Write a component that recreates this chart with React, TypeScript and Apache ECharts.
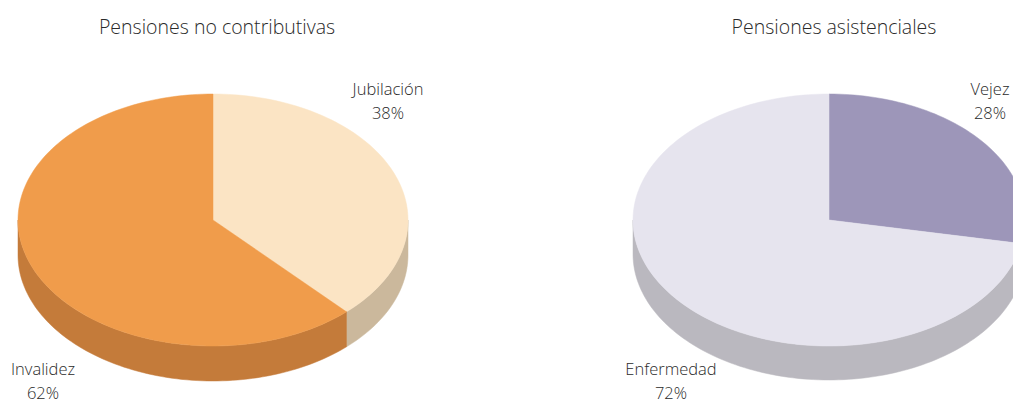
import React, { useEffect, useRef } from "react";
import * as echarts from "echarts";

const leftTitle = "Pensiones no contributivas";
const leftCategories = ["Jubilación", "Invalidez"];
const leftValues = [38, 62];

const rightTitle = "Pensiones asistenciales";
const rightCategories = ["Vejez", "Enfermedad"];
const rightValues = [28, 72];

const leftTopColors = ["#FBE4C4", "#F09C4B"];
const leftSideColors = ["#CBB89C", "#C47B3A"];
const rightTopColors = ["#9D96B9", "#E6E4EE"];
const rightSideColors = ["#8A84A0", "#BAB8BF"];

const FONT = "'Open Sans', 'Noto Sans', sans-serif";

function buildData(cats: string[], vals: number[]) {
  const total = vals.reduce((a, b) => a + b, 0);
  let cum = 0;
  return cats.map((c, i) => {
    const start = cum;
    cum += vals[i];
    return { name: c, value: [start / total, cum / total, vals[i]] };
  });
}

function makeSeries(
  cats: string[],
  vals: number[],
  tops: string[],
  sides: string[],
  geo: { cx: number; cy: number; rx: number; ry: number; depth: number },
  labelPos: number[][]
) {
  return {
    type: "custom",
    coordinateSystem: "none",
    data: buildData(cats, vals),
    renderItem: (params: any, api: any) => {
      const i = params.dataIndex;
      const a0 = api.value(0) * Math.PI * 2;
      const a1 = api.value(1) * Math.PI * 2;
      const pct = api.value(2);
      const { cx, cy, rx, ry, depth } = geo;
      const pt = (t: number, dy = 0) => [cx + rx * Math.sin(t), cy - ry * Math.cos(t) + dy];
      const arc = (s: number, e: number, dy = 0) => {
        const n = Math.max(2, Math.ceil(((e - s) / (Math.PI * 2)) * 240));
        const out: number[][] = [];
        for (let k = 0; k <= n; k++) out.push(pt(s + ((e - s) * k) / n, dy));
        return out;
      };
      const children: any[] = [];
      const s = Math.max(a0, Math.PI / 2);
      const e = Math.min(a1, (Math.PI * 3) / 2);
      if (e > s) {
        const topArc = arc(s, e);
        const botArc = arc(s, e, depth).reverse();
        children.push({
          type: "polygon",
          shape: { points: topArc.concat(botArc) },
          style: { fill: sides[i], stroke: sides[i], lineWidth: 0.5 },
        });
      }
      children.push({
        type: "polygon",
        shape: { points: [[cx, cy]].concat(arc(a0, a1)) },
        style: { fill: tops[i], stroke: tops[i], lineWidth: 0.5 },
      });
      const lp = labelPos[i];
      children.push({
        type: "text",
        x: cx + lp[0],
        y: cy + lp[1],
        style: {
          text: cats[i] + "\n" + pct + "%",
          fill: "#2a2a2a",
          fontFamily: FONT,
          fontSize: 16.5,
          fontWeight: 300,
          lineHeight: 24,
          align: "center",
          verticalAlign: "middle",
        },
      });
      return { type: "group", children };
    },
  };
}

export default function App() {
  const ref = useRef<HTMLDivElement>(null);
  useEffect(() => {
    document.body.style.margin = "0";
    const chart = echarts.init(ref.current!, null, { renderer: "svg" });
    const titleStyle = { fontFamily: FONT, fontSize: 19.5, fontWeight: 300, color: "#2a2a2a" };
    chart.setOption({
      animation: false,
      backgroundColor: "#ffffff",
      title: [
        { text: leftTitle, left: 212, top: 11, textAlign: "center", textStyle: titleStyle },
        { text: rightTitle, left: 829, top: 11, textAlign: "center", textStyle: titleStyle },
      ],
      series: [
        makeSeries(
          leftCategories,
          leftValues,
          leftTopColors,
          leftSideColors,
          { cx: 213, cy: 220, rx: 195, ry: 126, depth: 35 },
          [
            [175, -120],
            [-170, 160],
          ]
        ),
        makeSeries(
          rightCategories,
          rightValues,
          rightTopColors,
          rightSideColors,
          { cx: 829, cy: 220, rx: 196, ry: 126, depth: 34 },
          [
            [161, -120],
            [-158, 160],
          ]
        ),
      ],
    });
    return () => chart.dispose();
  }, []);
  return <div ref={ref} style={{ width: 1013, height: 404 }} />;
}
